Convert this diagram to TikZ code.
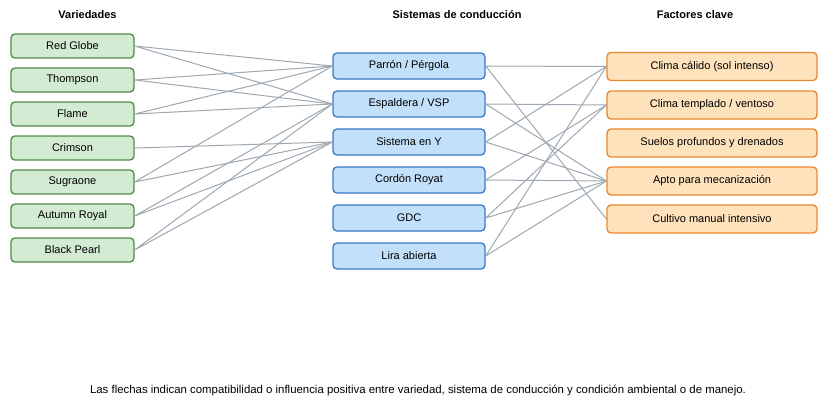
\documentclass[tikz,border=0pt]{standalone}
\usepackage{fontspec}
\setmainfont{Liberation Sans}
\definecolor{vertfond}{HTML}{D3EBD2}
\definecolor{vertbord}{HTML}{4F8D47}
\definecolor{bleufond}{HTML}{C2E0FA}
\definecolor{bleubord}{HTML}{3A78C8}
\definecolor{orfond}{HTML}{FEE2BC}
\definecolor{orbord}{HTML}{E8892B}
\definecolor{liengris}{HTML}{9EA8B2}
\tikzset{
	boite/.style={draw, line width=1.3pt, rounded corners=4pt, align=center, inner sep=0pt, font=\fontsize{11}{13}\selectfont},
	variete/.style={boite, fill=vertfond, draw=vertbord, minimum width=123pt, minimum height=24pt},
	systeme/.style={boite, fill=bleufond, draw=bleubord, minimum width=152pt, minimum height=26pt},
	facteur/.style={boite, fill=orfond, draw=orbord, minimum width=210pt, minimum height=28pt},
	titre/.style={font=\fontsize{11}{13}\selectfont\bfseries},
	lien/.style={draw=liengris, line width=1pt}
}
\begin{document}
\begin{tikzpicture}[x=1pt, y=-1pt]
	\useasboundingbox[fill=white] (0,0) rectangle (827,402);
	% les titres
	\node[titre] (tv) at (87.5,15) {Variedades};
	\node[titre] (ts) at (457,15) {Sistemas de conducción};
	\node[titre] (tf) at (695,15) {Factores clave};
	% les variétés
	\node[variete] (rg) at (72.5,46) {Red Globe};
	\node[variete] (th) at (72.5,80) {Thompson};
	\node[variete] (fl) at (72.5,114) {Flame};
	\node[variete] (cr) at (72.5,148) {Crimson};
	\node[variete] (su) at (72.5,182) {Sugraone};
	\node[variete] (ar) at (72.5,216) {Autumn Royal};
	\node[variete] (bp) at (72.5,250) {Black Pearl};
	% les systèmes de conduction
	\node[systeme] (pa) at (409,66) {Parrón / Pérgola};
	\node[systeme] (es) at (409,104) {Espaldera / VSP};
	\node[systeme] (sy) at (409,142) {Sistema en Y};
	\node[systeme] (co) at (409,180) {Cordón Royat};
	\node[systeme] (gd) at (409,218) {GDC};
	\node[systeme] (li) at (409,256) {Lira abierta};
	% les facteurs clés
	\node[facteur] (cc) at (712,66.5) {Clima cálido (sol intenso)};
	\node[facteur] (ct) at (712,105) {Clima templado / ventoso};
	\node[facteur] (sp) at (712,143) {Suelos profundos y drenados};
	\node[facteur] (am) at (712,181) {Apto para mecanización};
	\node[facteur] (cm) at (712,219) {Cultivo manual intensivo};
	% variétés -> systèmes
	\draw[lien] (rg.east) -- (pa.west) (rg.east) -- (es.west);
	\draw[lien] (th.east) -- (pa.west) (th.east) -- (es.west);
	\draw[lien] (fl.east) -- (pa.west) (fl.east) -- (es.west);
	\draw[lien] (cr.east) -- (sy.west);
	\draw[lien] (su.east) -- (pa.west) (su.east) -- (sy.west);
	\draw[lien] (ar.east) -- (es.west) (ar.east) -- (sy.west);
	\draw[lien] (bp.east) -- (es.west) (bp.east) -- (sy.west);
	% systèmes -> facteurs
	\draw[lien] (pa.east) -- (cc.west) (pa.east) -- (cm.west);
	\draw[lien] (es.east) -- (ct.west) (es.east) -- (am.west);
	\draw[lien] (sy.east) -- (cc.west) (sy.east) -- (am.west);
	\draw[lien] (co.east) -- (ct.west) (co.east) -- (am.west);
	\draw[lien] (gd.east) -- (ct.west) (gd.east) -- (am.west);
	\draw[lien] (li.east) -- (cc.west) (li.east) -- (am.west);
	% la légende
	\node[font=\fontsize{11.4}{13}\selectfont] (leg) at (418,390) {Las flechas indican compatibilidad o influencia positiva entre variedad, sistema de conducción y condición ambiental o de manejo.};
\end{tikzpicture}
\end{document}
